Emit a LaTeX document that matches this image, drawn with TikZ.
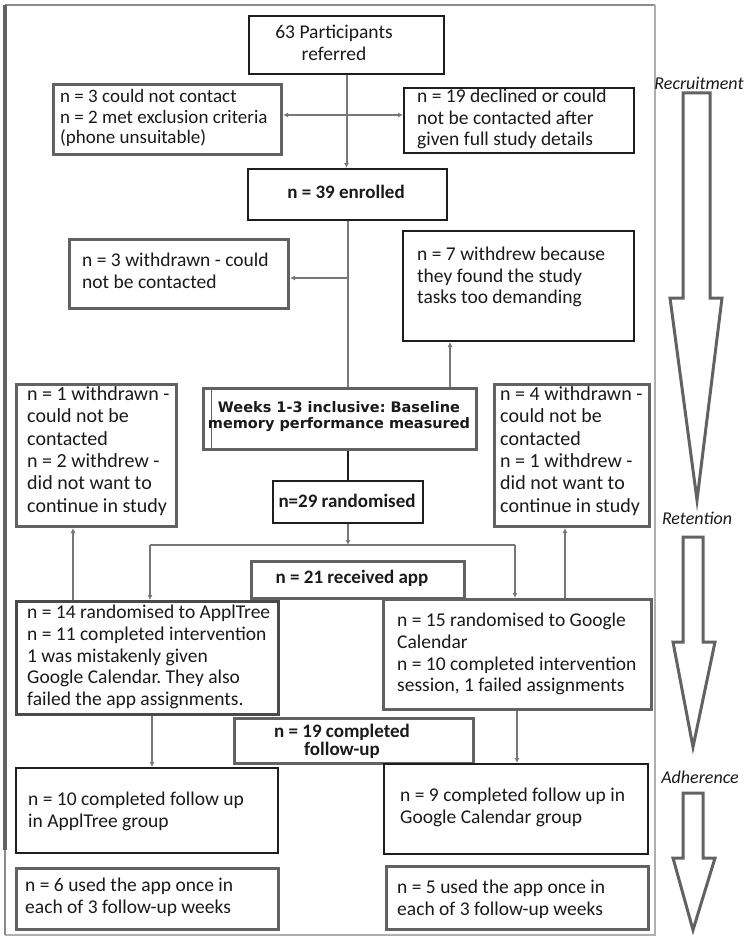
\documentclass[tikz,border=0pt]{standalone}
\usepackage{fontspec}
\setmainfont{Carlito}
\newfontfamily\verd{DejaVu Sans}
\usetikzlibrary{arrows.meta}
\frenchspacing
\definecolor{bgray}{HTML}{626262}
\definecolor{dgray}{HTML}{4A4A4A}
\definecolor{cgray}{HTML}{777777}
\definecolor{bblack}{HTML}{1E1E1E}
\definecolor{txtc}{HTML}{1A1A1A}
\definecolor{fgray}{HTML}{8C8C8C}
\begin{document}
\begin{tikzpicture}[x=1pt,y=-1pt,
  gbox/.style={draw=bgray, line width=3pt, fill=white, inner sep=0pt, anchor=north west},
  dbox/.style={draw=dgray, line width=3pt, fill=white, inner sep=0pt, anchor=north west},
  bbox/.style={draw=bblack, line width=2pt, fill=white, inner sep=0pt, anchor=north west},
  txt/.style={inner sep=0pt, align=left, anchor=west, text=txtc, font=\fontsize{19.5}{21.8}\selectfont},
  ctxt/.style={inner sep=0pt, align=center, anchor=center, text=txtc, font=\fontsize{19.5}{21.8}\selectfont},
  btxt/.style={inner sep=0pt, align=center, anchor=center, text=txtc, font=\fontsize{19}{18}\selectfont\bfseries},
  lab/.style={inner sep=0pt, anchor=center, text=txtc, font=\fontsize{18}{20}\selectfont\itshape},
  conn/.style={draw=cgray, line width=2pt, -{Latex[length=5pt,width=5pt]}},
  cline/.style={draw=cgray, line width=2pt},
  kline/.style={draw=bblack, line width=2pt},
  blockarrow/.style={draw=bgray, line width=3pt, line join=miter, fill=white}
]
\useasboundingbox (0,0) rectangle (750,939);

% outer frame
\draw[fgray, line width=2pt] (5,5) -- (655,5);
\draw[fgray!70, line width=1.5pt] (655,5) -- (655,935) -- (5,935);
\draw[bgray, line width=4pt] (5,5) -- (5,850);
\draw[fgray, line width=1.5pt] (5,850) -- (5,935);

% boxes
\node[bbox, minimum width=195, minimum height=58] (p63) at (248,15) {};
\node[gbox, minimum width=228, minimum height=70] (excl) at (52,83) {};
\node[bbox, minimum width=230, minimum height=65] (decl) at (403,87) {};
\node[bbox, minimum width=199, minimum height=51] (enr) at (247,168) {};
\node[gbox, minimum width=219, minimum height=69] (wd3) at (68,238) {};
\node[bbox, minimum width=231, minimum height=110] (wd7) at (402,230) {};
\node[gbox, minimum width=273, minimum height=61] (base) at (202,387) {};
\node[gbox, minimum width=160, minimum height=142] (wd1) at (15,383) {};
\node[gbox, minimum width=155, minimum height=142] (wd4) at (493,383) {};
\node[bbox, minimum width=150, minimum height=42] (rand) at (272,480) {};
\node[gbox, minimum width=213, minimum height=37] (n21) at (250,560) {};
\node[dbox, minimum width=262, minimum height=113] (n14) at (15,600) {};
\node[gbox, minimum width=268, minimum height=110] (n15) at (382,598) {};
\node[gbox, minimum width=239, minimum height=45] (n19) at (233,717) {};
\node[bbox, minimum width=262, minimum height=85] (n10) at (15,767) {};
\node[bbox, minimum width=264, minimum height=90] (n9) at (383,763) {};
\node[gbox, minimum width=262, minimum height=61] (n6) at (15,867) {};
\node[gbox, minimum width=262, minimum height=63] (n5) at (385,865) {};

% inner line of baseline box
\draw[bgray, line width=1pt] ([xshift=9pt,yshift=-3pt]base.north west) -- ([xshift=9pt,yshift=3pt]base.south west);

% texts
\node[ctxt] (p63t) at (334,43) {63 Participants\\referred};
\node[txt, font=\fontsize{19}{20.8}\selectfont] (exclt) at (60,118) {n = 3 could not contact\\n = 2 met exclusion criteria\\(phone unsuitable)};
\node[txt] (declt) at (417,119) {n = 19 declined or could\\not be contacted after\\given full study details};
\node[btxt] (enrt) at (346,192) {n = 39 enrolled};
\node[txt] (wd3t) at (82,271) {n = 3 withdrawn - could\\not be contacted};
\node[txt] (wd7t) at (417,277) {n = 7 withdrew because\\they found the study\\tasks too demanding};
\node[inner sep=0pt, align=center, anchor=center, text=txtc, font=\verd\fontsize{14.5}{16}\selectfont\bfseries] (baset) at (339,417) {Weeks 1-3 inclusive: Baseline\\memory performance measured};
\node[txt, font=\fontsize{20}{22.4}\selectfont] (wd1t) at (27,451) {n = 1 withdrawn -\\could not be\\contacted\\n = 2 withdrew -\\did not want to\\continue in study};
\node[txt, font=\fontsize{20}{22.4}\selectfont] (wd4t) at (500,451) {n = 4 withdrawn -\\could not be\\contacted\\n = 1 withdrew -\\did not want to\\continue in study};
\node[btxt] (randt) at (347,501) {n=29 randomised};
\node[btxt] (n21t) at (352,578) {n = 21 received app};
\node[txt] (n14t) at (27,657) {n = 14 randomised to ApplTree\\n = 11 completed intervention\\1 was mistakenly given\\Google Calendar. They also\\failed the app assignments.};
\node[txt] (n15t) at (397,654) {n = 15 randomised to Google\\Calendar\\n = 10 completed intervention\\session, 1 failed assignments};
\node[btxt] (n19t) at (342,741) {n = 19 completed\\follow-up};
\node[txt] (n10t) at (28,811) {n = 10 completed follow up\\in ApplTree group};
\node[txt] (n9t) at (400,807.5) {n = 9 completed follow up in\\Google Calendar group};
\node[txt] (n6t) at (25,897.5) {n = 6 used the app once in\\each of 3 follow-up weeks};
\node[txt] (n5t) at (397,899) {n = 5 used the app once in\\each of 3 follow-up weeks};

% connectors
\coordinate (j1) at (p63.south |- 0,115);
\draw[conn] (p63.south) -- (p63.south |- enr.north);
\draw[conn] (j1) -- (j1 -| excl.east);
\draw[conn] (j1) -- (j1 -| decl.west);
\draw[cline] (enr.south) -- (enr.south |- base.north);
\draw[conn] (enr.south |- 0,278) -- (wd3.east |- 0,278);
\draw[conn] (450,0 |- base.north) -- (450,0 |- wd7.south);
\draw[kline] (rand.north |- base.south) -- (rand.north);
\coordinate (bus) at (rand.south |- 0,545);
\coordinate (busL) at (150,545);
\coordinate (busR) at (515,545);
\draw[conn] (rand.south) -- (bus);
\draw[cline] (busL) -- (busR);
\draw[conn] (busL) -- (busL |- n14.north);
\draw[conn] (busR) -- (busR |- n15.north);
\draw[conn] (73,0 |- n14.north) -- (73,0 |- wd1.south);
\draw[conn] (565,0 |- n15.north) -- (565,0 |- wd4.south);
\draw[conn] (152,0 |- n14.south) -- (152,0 |- n10.north);
\draw[conn] (517,0 |- n15.south) -- (517,0 |- n9.north);

% phase labels and block arrows
\node[lab] (rec) at (699,83) {Recruitment};
\node[lab] (ret) at (697,518) {Retention};
\node[lab] (adh) at (700,777) {Adherence};
\draw[blockarrow] (683,93) -- (710,93) -- (710,298) -- (722,298) -- (697,500) -- (670,298) -- (683,298) -- cycle;
\draw[blockarrow] (683,537) -- (703,537) -- (703,642) -- (715,642) -- (693,747) -- (673,642) -- (683,642) -- cycle;
\draw[blockarrow] (683,793) -- (703,793) -- (703,858) -- (715,858) -- (693,930) -- (673,858) -- (683,858) -- cycle;
\end{tikzpicture}
\end{document}
